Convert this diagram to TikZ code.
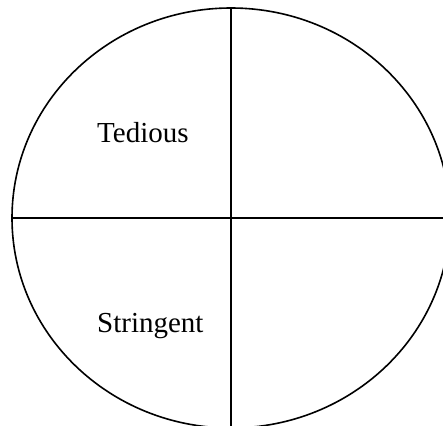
\documentclass[tikz,border=0pt]{standalone}
\usepackage{fontspec}
\setmainfont{Liberation Serif}
\usetikzlibrary{positioning,calc}
\tikzset{
  rim/.style={draw=black, line width=1.6pt},
  axis/.style={draw=black, line width=1.6pt},
  lbl/.style={font=\fontsize{29}{34}\selectfont, anchor=base west, inner sep=0pt},
}
\begin{document}
\begin{tikzpicture}[x=1pt, y=-1pt]
  \useasboundingbox (0,0) rectangle (443,425);
  \clip (0,0) rectangle (443,425);
  \coordinate (c) at (231,218);
  \draw[rim] (c) ellipse [x radius=219pt, y radius=210pt];
  \coordinate (top) at (231,8);
  \coordinate (bot) at (231,430);
  \coordinate (lft) at (12,218);
  \coordinate (rgt) at (450,218);
  \draw[axis] (top) -- (bot);
  \draw[axis] (lft) -- (rgt);
  \node[lbl] (ted) at (97,142) {Tedious};
  \node[lbl] (str) at (97,332) {Stringent};
\end{tikzpicture}
\end{document}
